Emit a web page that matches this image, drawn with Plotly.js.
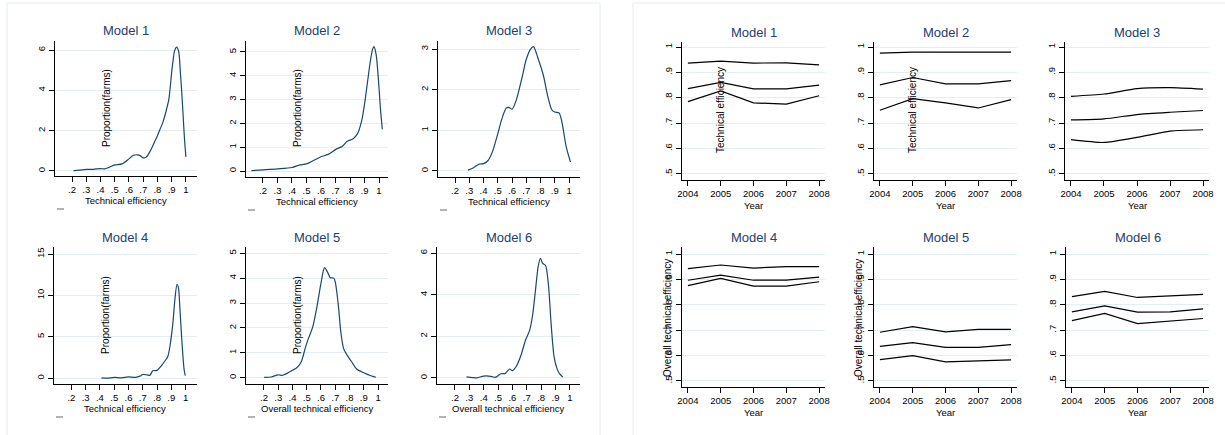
<!DOCTYPE html>
<html>
<head>
<meta charset="utf-8">
<script src="https://cdn.plot.ly/plotly-3.0.1.min.js"></script>
<style>html,body{margin:0;padding:0;background:#fff;}#chart{width:1225px;height:435px;}</style>
</head>
<body>
<div id="chart"></div>
<script>
// ---------- DATA ----------
// Kernel density estimates (left panel)
const m1x = [0.21,0.25,0.3,0.35,0.4,0.43,0.46,0.5,0.55,0.6,0.63,0.66,0.68,0.7,0.72,0.75,0.78,0.8,0.82,0.84,0.86,0.88,0.9,0.91,0.92,0.935,0.95,0.96,0.97,0.98,0.99,1.0];
const m1y = [0.02,0.04,0.08,0.08,0.12,0.1,0.18,0.3,0.35,0.6,0.78,0.8,0.75,0.65,0.68,1.0,1.45,1.75,2.1,2.45,2.95,3.55,4.9,5.5,5.95,6.15,5.9,5.0,4.0,2.8,1.6,0.7];
const m2x = [0.12,0.2,0.3,0.4,0.45,0.5,0.55,0.6,0.65,0.7,0.75,0.78,0.82,0.85,0.88,0.9,0.92,0.94,0.955,0.965,0.98,0.99,1.0,1.01,1.023];
const m2y = [0.02,0.05,0.09,0.15,0.25,0.3,0.45,0.6,0.7,0.9,1.05,1.25,1.35,1.55,2.1,2.8,3.7,4.6,5.1,5.22,4.9,4.3,3.5,2.6,1.75];
const m3x = [0.29,0.33,0.37,0.4,0.43,0.46,0.5,0.53,0.56,0.58,0.6,0.63,0.67,0.7,0.73,0.75,0.78,0.82,0.85,0.88,0.9,0.93,0.95,0.98,1.01];
const m3y = [0.02,0.08,0.17,0.18,0.25,0.45,0.92,1.3,1.55,1.56,1.52,1.75,2.3,2.75,3.0,3.06,2.8,2.35,1.85,1.5,1.45,1.43,1.2,0.6,0.22];
const m4x = [0.41,0.45,0.5,0.55,0.6,0.65,0.68,0.7,0.73,0.75,0.77,0.8,0.83,0.86,0.875,0.89,0.91,0.925,0.94,0.95,0.96,0.97,0.98,0.99,0.998];
const m4y = [0.05,0.0,0.1,0.05,0.15,0.1,0.25,0.45,0.4,0.35,0.9,0.95,1.5,2.2,2.6,3.8,6.5,9.5,11.35,10.9,8.5,5.6,3.0,1.0,0.3];
const m5x = [0.2,0.25,0.3,0.33,0.37,0.4,0.43,0.46,0.49,0.51,0.54,0.57,0.6,0.625,0.645,0.665,0.69,0.7,0.72,0.74,0.76,0.79,0.82,0.85,0.9,0.95,0.985];
const m5y = [0.02,0.03,0.12,0.1,0.2,0.3,0.4,0.62,1.2,1.55,2.0,2.8,3.8,4.42,4.25,4.02,4.0,3.85,3.0,1.8,1.15,0.85,0.6,0.35,0.2,0.08,0.02];
const m6x = [0.28,0.32,0.35,0.4,0.45,0.48,0.52,0.55,0.58,0.6,0.63,0.66,0.69,0.72,0.74,0.76,0.78,0.795,0.81,0.83,0.85,0.87,0.89,0.91,0.93,0.95];
const m6y = [0.05,0.02,0.0,0.09,0.08,0.03,0.2,0.22,0.43,0.35,0.6,1.1,1.8,2.3,3.0,4.2,5.4,5.75,5.5,5.4,4.5,2.5,1.0,0.45,0.18,0.05];

// Efficiency by year (right panel): upper, middle, lower lines
const years = [2004,2005,2006,2007,2008];
const r1Up  = [0.937,0.945,0.937,0.938,0.930];
const r1Mid = [0.836,0.861,0.835,0.835,0.850];
const r1Low = [0.785,0.827,0.780,0.775,0.808];
const r2Up  = [0.976,0.980,0.980,0.979,0.980];
const r2Mid = [0.851,0.880,0.855,0.855,0.868];
const r2Low = [0.751,0.797,0.780,0.760,0.793];
const r3Up  = [0.806,0.815,0.836,0.840,0.834];
const r3Mid = [0.713,0.717,0.734,0.743,0.750];
const r3Low = [0.635,0.624,0.644,0.669,0.674];
const r4Up  = [0.943,0.957,0.945,0.951,0.951];
const r4Mid = [0.897,0.917,0.897,0.897,0.909];
const r4Low = [0.876,0.904,0.874,0.874,0.891];
const r5Up  = [0.692,0.714,0.693,0.703,0.703];
const r5Mid = [0.636,0.651,0.632,0.632,0.643];
const r5Low = [0.584,0.600,0.575,0.579,0.583];
const r6Up  = [0.832,0.853,0.829,0.834,0.841];
const r6Mid = [0.772,0.796,0.771,0.772,0.784];
const r6Low = [0.738,0.766,0.726,0.737,0.746];

// Tick labels
const effTickVals = [0.2,0.3,0.4,0.5,0.6,0.7,0.8,0.9,1];
const effTickText = [".2",".3",".4",".5",".6",".7",".8",".9","1"];
const rightYVals = [0.5,0.6,0.7,0.8,0.9,1];
const rightYText = [".5",".6",".7",".8",".9","1"];
const densYTicks = [[0,2,4,6],[0,1,2,3,4,5],[0,1,2,3],[0,5,10,15],[0,1,2,3,4,5],[0,2,4,6]];
const modelTitles = ["Model 1","Model 2","Model 3","Model 4","Model 5","Model 6"];
const leftXTitles = ["Technical efficiency","Technical efficiency","Technical efficiency","Technical efficiency","Overall technical efficiency","Overall technical efficiency"];

// ---------- LAYOUT HELPERS ----------
const W = 1225, H = 435;
const FONT = "Liberation Sans, Arial, sans-serif";
const NAVY = "#1a476f";
const TITLE_COL = "#233e6c";
function dom(x0, x1) { return [x0 / W, x1 / W]; }
function domY(top, bot) { return [1 - bot / H, 1 - top / H]; }
function ann(text, px, py, size, color, angle) {
  return {text: text, x: px / W, y: 1 - py / H, xref: "paper", yref: "paper",
    showarrow: false, xanchor: "center", yanchor: "middle",
    font: {family: FONT, size: size, color: color}, textangle: angle || 0};
}
const baseAxis = {showline: true, linecolor: "#000", linewidth: 1, ticks: "outside",
  ticklen: 5, tickwidth: 1, tickcolor: "#000", zeroline: false, mirror: false,
  tickfont: {family: FONT, size: 9.5, color: "#000"}, fixedrange: true};

// Plot boxes [x0,x1,top,bottom] in pixels
const leftBoxes = [[55,197,41,176],[246,388,41,177],[438,580,41,177],[54,197,247,384],[246,388,247,384],[437,580,247,384]];
const rightBoxes = [[682,825,42,180],[874,1017,42,180],[1065,1209,42,180],[682,825,247,387],[874,1017,247,387],[1066,1209,247,387]];
const leftXRanges = [[0.08,1.078],[0.083,1.062],[0.08,1.077],[0.078,1.08],[0.074,1.07],[0.075,1.07]];
const leftYRanges = [[-0.25,6.45],[-0.25,5.46],[-0.15,3.2],[-0.7,15.85],[-0.25,5.25],[-0.29,6.29]];

const densX = [m1x,m2x,m3x,m4x,m5x,m6x];
const densY = [m1y,m2y,m3y,m4y,m5y,m6y];
const rightSeries = [[r1Up,r1Mid,r1Low],[r2Up,r2Mid,r2Low],[r3Up,r3Mid,r3Low],[r4Up,r4Mid,r4Low],[r5Up,r5Mid,r5Low],[r6Up,r6Mid,r6Low]];

const traces = [];
const layout = {width: W, height: H, margin: {l:0,r:0,t:0,b:0}, showlegend: false,
  paper_bgcolor: "#fff", plot_bgcolor: "#fff", annotations: [], shapes: []};

function axKey(prefix, n) { return n === 1 ? prefix + "axis" : prefix + "axis" + n; }

// Left panel: densities
for (let i = 0; i < 6; i++) {
  const n = i + 1;
  const b = leftBoxes[i];
  traces.push({x: densX[i], y: densY[i], type: "scatter", mode: "lines",
    line: {color: NAVY, width: 1.2, shape: "spline", smoothing: 0.8},
    xaxis: "x" + (n === 1 ? "" : n), yaxis: "y" + (n === 1 ? "" : n), hoverinfo: "skip"});
  layout[axKey("x", n)] = Object.assign({}, baseAxis, {domain: dom(b[0], b[1]), range: leftXRanges[i],
    tickmode: "array", tickvals: effTickVals, ticktext: effTickText, showgrid: false,
    anchor: "y" + (n === 1 ? "" : n)});
  layout[axKey("y", n)] = Object.assign({}, baseAxis, {domain: domY(b[2], b[3]), range: leftYRanges[i],
    tickmode: "array", tickvals: densYTicks[i], ticktext: densYTicks[i].map(String), tickangle: -90,
    showgrid: true, gridcolor: "#e3eef0", gridwidth: 1, anchor: "x" + (n === 1 ? "" : n)});
  const cx = (b[0] + b[1]) / 2;
  layout.annotations.push(ann(modelTitles[i], cx, b[2] - 10, 13, TITLE_COL));
  layout.annotations.push(ann(leftXTitles[i], cx, b[3] + 24, 9.5, "#000"));
  // little legend stub
  layout.shapes.push({type: "line", xref: "paper", yref: "paper",
    x0: (b[0] + 2) / W, x1: (b[0] + 9) / W, y0: 1 - (b[3] + 33) / H, y1: 1 - (b[3] + 33) / H,
    line: {color: "#9a9a9a", width: 1.5}});
}
// Y titles inside the left plots
layout.annotations.push(ann("Proportion(farms)", 106, 108, 10, "#000", -90));
layout.annotations.push(ann("Proportion(farms)", 297, 108, 10, "#000", -90));
layout.annotations.push(ann("Proportion(farms)", 105, 315, 10, "#000", -90));
layout.annotations.push(ann("Proportion(farms)", 297, 315, 10, "#000", -90));

// Right panel: yearly lines
for (let i = 0; i < 6; i++) {
  const n = i + 7;
  const b = rightBoxes[i];
  const yr = i < 3 ? [0.476, 1.02] : [0.476, 1.028];
  rightSeries[i].forEach(s => {
    traces.push({x: years, y: s, type: "scatter", mode: "lines",
      line: {color: "#000", width: 1.2, shape: i === 2 ? "spline" : "linear", smoothing: 0.6},
      xaxis: "x" + n, yaxis: "y" + n, hoverinfo: "skip"});
  });
  layout[axKey("x", n)] = Object.assign({}, baseAxis, {domain: dom(b[0], b[1]), range: [2003.82, 2008.18],
    tickmode: "array", tickvals: years, ticktext: years.map(String), showgrid: false, anchor: "y" + n});
  layout[axKey("y", n)] = Object.assign({}, baseAxis, {domain: domY(b[2], b[3]), range: yr,
    tickmode: "array", tickvals: rightYVals, ticktext: rightYText, tickangle: -90,
    showgrid: true, gridcolor: "#e3eef0", gridwidth: 1, anchor: "x" + n});
  const cx = (b[0] + b[1]) / 2;
  layout.annotations.push(ann(modelTitles[i], cx, b[2] - 10, 13, TITLE_COL));
  layout.annotations.push(ann("Year", cx, b[3] + 25, 9.5, "#000"));
}
layout.annotations.push(ann("Technical efficiency", 720, 110, 10, "#000", -90));
layout.annotations.push(ann("Technical efficiency", 912, 110, 10, "#000", -90));
layout.annotations.push(ann("Overall technical efficiency", 667, 318, 10, "#000", -90));
layout.annotations.push(ann("Overall technical efficiency", 858, 318, 10, "#000", -90));

// Outer frames of the two combined graphs
layout.shapes.push({type: "rect", xref: "paper", yref: "paper", x0: 7 / W, x1: 600 / W, y0: -0.01, y1: 1 - 3 / H,
  line: {color: "#e6ecee", width: 1}, layer: "below"});
layout.shapes.push({type: "rect", xref: "paper", yref: "paper", x0: 633 / W, x1: 1.01, y0: -0.01, y1: 1 - 3 / H,
  line: {color: "#e6ecee", width: 1}, layer: "below"});

Plotly.newPlot("chart", traces, layout, {displayModeBar: false, staticPlot: true});
</script>
</body>
</html>
